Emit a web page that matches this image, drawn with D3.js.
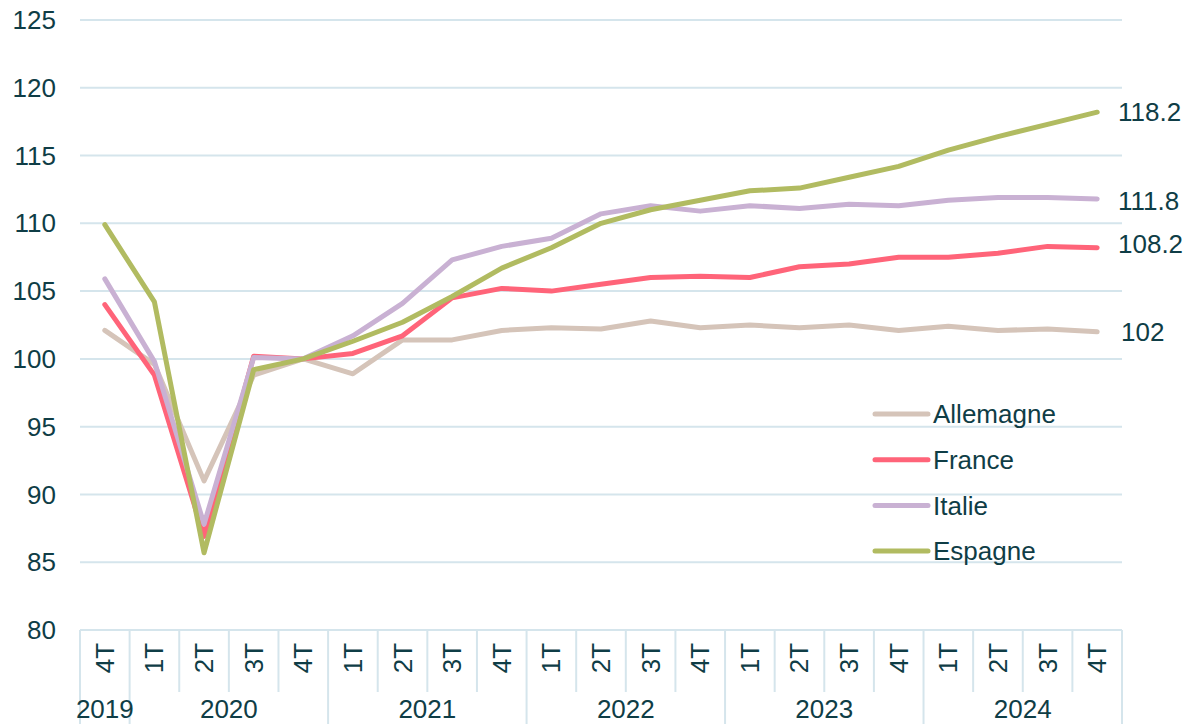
<!DOCTYPE html>
<head>
  <meta charset="utf-8">
  <script src="https://d3js.org/d3.v7.min.js"></script>
  <style>
    body { margin:0; background:#fff; }
    text { font-family: "Liberation Sans", Arial, sans-serif; fill: #0f3d46; }
    .grid line { stroke: #d5e5ec; stroke-width: 2px; }
    .line { fill: none; stroke-width: 5px; stroke-linejoin: round; stroke-linecap: round; }
  </style>
</head>
<body>
  <script>
    // Data
    var quarters = ["4T","1T","2T","3T","4T","1T","2T","3T","4T","1T","2T","3T","4T","1T","2T","3T","4T","1T","2T","3T","4T"];
    var years = [
      {label: "2019", from: 0, to: 0},
      {label: "2020", from: 1, to: 4},
      {label: "2021", from: 5, to: 8},
      {label: "2022", from: 9, to: 12},
      {label: "2023", from: 13, to: 16},
      {label: "2024", from: 17, to: 20}
    ];
    var allemagne = [102.1, 99.6, 91.0, 98.8, 100, 98.9, 101.4, 101.4, 102.1, 102.3, 102.2, 102.8, 102.3, 102.5, 102.3, 102.5, 102.1, 102.4, 102.1, 102.2, 102.0];
    var france    = [104.0, 98.8, 86.9, 100.2, 100, 100.4, 101.7, 104.5, 105.2, 105.0, 105.5, 106.0, 106.1, 106.0, 106.8, 107.0, 107.5, 107.5, 107.8, 108.3, 108.2];
    var italie    = [105.9, 99.8, 87.8, 100.1, 100, 101.7, 104.1, 107.3, 108.3, 108.9, 110.7, 111.3, 110.9, 111.3, 111.1, 111.4, 111.3, 111.7, 111.9, 111.9, 111.8];
    var espagne   = [109.9, 104.2, 85.7, 99.2, 100, 101.3, 102.7, 104.6, 106.7, 108.2, 110.0, 111.0, 111.7, 112.4, 112.6, 113.4, 114.2, 115.4, 116.4, 117.3, 118.2];
    var yTicks = [80, 85, 90, 95, 100, 105, 110, 115, 120, 125];
    var endLabels = ["102", "108.2", "111.8", "118.2"];

    var series = [
      {name: "Allemagne", values: allemagne, color: "#d5c4b9"},
      {name: "France", values: france, color: "#ff6479"},
      {name: "Italie", values: italie, color: "#c9b1d3"},
      {name: "Espagne", values: espagne, color: "#b1bb61"}
    ];

    var width = 1188, height = 724;
    var plotL = 80, plotR = 1122, plotT = 20, plotB = 630;

    var svg = d3.select("body").append("svg")
        .attr("width", width)
        .attr("height", height);

    var x = d3.scaleBand().domain(d3.range(quarters.length)).range([plotL, plotR]).padding(0);
    var cx = function(i) { return x(i) + x.bandwidth() / 2; };
    var y = d3.scaleLinear().domain([80, 125]).range([plotB, plotT]);

    // Gridlines
    svg.append("g").attr("class", "grid")
      .selectAll("line").data(yTicks).enter().append("line")
        .attr("x1", plotL).attr("x2", plotR)
        .attr("y1", function(d) { return y(d); })
        .attr("y2", function(d) { return y(d); });

    // Y axis labels
    svg.append("g").selectAll("text").data(yTicks).enter().append("text")
        .attr("x", 56)
        .attr("y", function(d) { return y(d); })
        .attr("dy", "0.35em")
        .attr("text-anchor", "end")
        .style("font-size", "26px")
        .text(function(d) { return d; });

    // X axis: quarter separators and year separators
    var edge = function(i) { return i < quarters.length ? x(i) : plotR; };
    var ax = svg.append("g").attr("class", "grid");
    ax.selectAll(".qsep").data(d3.range(quarters.length + 1)).enter().append("line")
        .attr("x1", edge).attr("x2", edge)
        .attr("y1", plotB).attr("y2", 692);
    var ysep = [0].concat(years.map(function(d) { return d.to + 1; }));
    ax.selectAll(".ysep").data(ysep).enter().append("line")
        .attr("x1", edge).attr("x2", edge)
        .attr("y1", 692).attr("y2", height);

    svg.append("g").selectAll("text").data(quarters).enter().append("text")
        .attr("transform", function(d, i) { return "translate(" + (cx(i) + 9) + ",658) rotate(-90)"; })
        .attr("text-anchor", "middle")
        .style("font-size", "26px")
        .text(function(d) { return d; });

    svg.append("g").selectAll("text").data(years).enter().append("text")
        .attr("x", function(d) { return (x(d.from) + x(d.to) + x.bandwidth()) / 2; })
        .attr("y", 718)
        .attr("text-anchor", "middle")
        .style("font-size", "26px")
        .text(function(d) { return d.label; });

    // Lines
    var line = d3.line()
        .x(function(d, i) { return cx(i); })
        .y(function(d) { return y(d); });

    svg.append("g").selectAll("path").data(series).enter().append("path")
        .attr("class", "line")
        .attr("stroke", function(d) { return d.color; })
        .attr("d", function(d) { return line(d.values); });

    // End labels
    var last = quarters.length - 1;
    var nudge = [0, -4, 2, 0];
    svg.append("g").selectAll("text").data(series).enter().append("text")
        .attr("x", function(d, i) { return i === 0 ? 1121 : 1118; })
        .attr("y", function(d, i) { return y(d.values[last]) + nudge[i]; })
        .attr("dy", "0.35em")
        .style("font-size", "26px")
        .text(function(d, i) { return endLabels[i]; });

    // Legend
    var lg = svg.append("g").selectAll("g").data(series).enter().append("g")
        .attr("transform", function(d, i) { return "translate(875," + (414 + i * 45.7) + ")"; });
    lg.append("line")
        .attr("x1", 0).attr("x2", 53)
        .attr("stroke", function(d) { return d.color; })
        .attr("stroke-width", 5)
        .attr("stroke-linecap", "round");
    lg.append("text")
        .attr("x", 58)
        .attr("dy", "0.35em")
        .style("font-size", "26px")
        .text(function(d) { return d.name; });
  </script>
</body>
